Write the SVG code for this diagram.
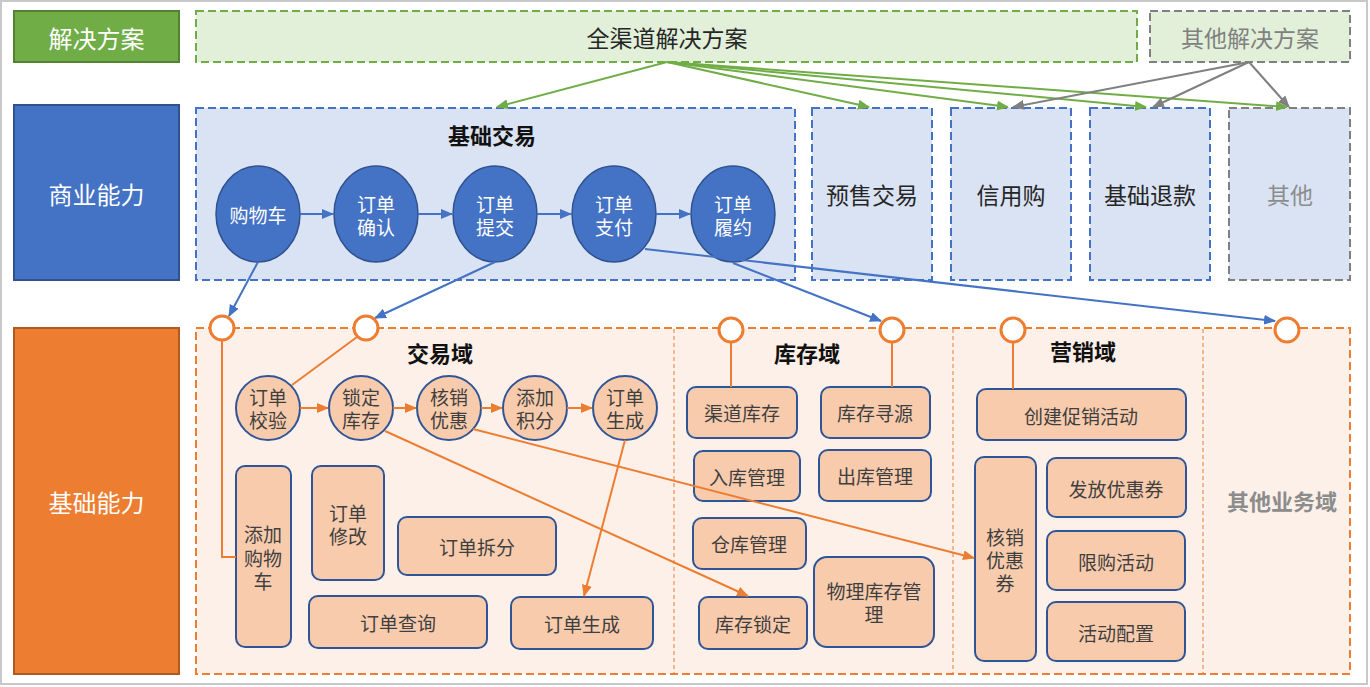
<svg xmlns="http://www.w3.org/2000/svg" width="1370" height="687" viewBox="0 0 1370 687">
<style>
text{font-family:"Noto Sans CJK SC","Noto Sans",sans-serif;text-anchor:middle;dominant-baseline:central}
.lab{fill:#fff;font-size:24px}
.dg{fill:#E2F0D9;stroke:#70AD47;stroke-width:2;stroke-dasharray:8 4}
.dgy{fill:#E2F0D9;stroke:#808080;stroke-width:2;stroke-dasharray:8 4}
.db{fill:#DAE3F3;stroke:#4472C4;stroke-width:2;stroke-dasharray:8 4}
.dbg{fill:#DAE3F3;stroke:#808080;stroke-width:2;stroke-dasharray:8 4}
.do{fill:#FDF0E9;stroke:#ED7D31;stroke-width:2;stroke-dasharray:8 4}
.div{stroke:#ED7D31;stroke-width:1;stroke-dasharray:4 3;fill:none}
.ell{fill:#4472C4;stroke:#2F528F;stroke-width:1.5}
.et{fill:#fff;font-size:19px}
.nc{fill:#F8CBAD;stroke:#2F5597;stroke-width:2}
.nt{fill:#3F3F3F;font-size:19px}
.big{fill:#262626;font-size:23px}
.ttl{fill:#111;font-size:22px;font-weight:bold}
.port{fill:#fff;stroke:#ED7D31;stroke-width:3}
.g{stroke:#70AD47;stroke-width:2;fill:none;marker-end:url(#ag)}
.gy{stroke:#808080;stroke-width:2;fill:none;marker-end:url(#agy)}
.b{stroke:#4472C4;stroke-width:2;fill:none;marker-end:url(#ab)}
.o{stroke:#ED7D31;stroke-width:2;fill:none;marker-end:url(#ao)}
.ol{stroke:#ED7D31;stroke-width:2;fill:none}
</style>
<defs>
<marker id="ag" markerWidth="12" markerHeight="10" refX="11" refY="5" orient="auto" markerUnits="userSpaceOnUse"><path d="M0,0 L12,5 L0,10 z" fill="#70AD47"/></marker>
<marker id="agy" markerWidth="12" markerHeight="10" refX="11" refY="5" orient="auto" markerUnits="userSpaceOnUse"><path d="M0,0 L12,5 L0,10 z" fill="#808080"/></marker>
<marker id="ab" markerWidth="12" markerHeight="10" refX="11" refY="5" orient="auto" markerUnits="userSpaceOnUse"><path d="M0,0 L12,5 L0,10 z" fill="#4472C4"/></marker>
<marker id="ao" markerWidth="12" markerHeight="10" refX="11" refY="5" orient="auto" markerUnits="userSpaceOnUse"><path d="M0,0 L12,5 L0,10 z" fill="#ED7D31"/></marker>
</defs>
<rect x="1" y="1" width="1366" height="683" fill="#fff" stroke="#C8C8C8" stroke-width="2"/>

<g id="label-solution"><rect x="14" y="11" width="165" height="51" fill="#70AD47" stroke="#548235" stroke-width="2"/><text class="lab" x="96.5" y="37">解决方案</text></g>
<g id="label-business"><rect x="14" y="105" width="165" height="175" fill="#4472C4" stroke="#2F528F" stroke-width="2"/><text class="lab" x="96.5" y="193">商业能力</text></g>
<g id="label-base"><rect x="14" y="328" width="165" height="346" fill="#ED7D31" stroke="#AE5A21" stroke-width="2"/><text class="lab" x="96.5" y="501">基础能力</text></g>

<g id="omni"><rect class="dg" x="196" y="11" width="941" height="51"/><text class="big" x="667" y="37">全渠道解决方案</text></g>
<g id="other-solution"><rect class="dgy" x="1150" y="11" width="200" height="51"/><text class="big" x="1250" y="37" style="fill:#808080">其他解决方案</text></g>

<g id="basic-trade"><rect class="db" x="196" y="108" width="599" height="172"/><text class="ttl" x="492" y="134">基础交易</text></g>
<g id="presale"><rect class="db" x="812" y="108" width="120" height="172"/><text class="big" x="872" y="194">预售交易</text></g>
<g id="credit"><rect class="db" x="951" y="108" width="120" height="172"/><text class="big" x="1011" y="194">信用购</text></g>
<g id="refund"><rect class="db" x="1090" y="108" width="120" height="172"/><text class="big" x="1150" y="194">基础退款</text></g>
<g id="other-biz"><rect class="dbg" x="1229" y="108" width="121" height="172"/><text class="big" x="1290" y="194" style="fill:#8C8C8C">其他</text></g>

<g id="e-cart"><ellipse class="ell" cx="258" cy="214" rx="42" ry="48"/><text class="et" x="258" y="214">购物车</text></g>
<g id="e-confirm"><ellipse class="ell" cx="376" cy="214" rx="42" ry="48"/><text class="et" x="376" y="203">订单<tspan x="376" dy="23">确认</tspan></text></g>
<g id="e-submit"><ellipse class="ell" cx="495" cy="214" rx="42" ry="48"/><text class="et" x="495" y="203">订单<tspan x="495" dy="23">提交</tspan></text></g>
<g id="e-pay"><ellipse class="ell" cx="614" cy="214" rx="42" ry="48"/><text class="et" x="614" y="203">订单<tspan x="614" dy="23">支付</tspan></text></g>
<g id="e-fulfil"><ellipse class="ell" cx="733" cy="214" rx="42" ry="48"/><text class="et" x="733" y="203">订单<tspan x="733" dy="23">履约</tspan></text></g>

<g id="base-area"><rect class="do" x="196" y="328" width="1154" height="346"/>
<line class="div" x1="674" y1="329" x2="674" y2="673"/><line class="div" x1="953" y1="329" x2="953" y2="673"/><line class="div" x1="1203" y1="329" x2="1203" y2="673"/></g>

<g id="trade-domain"><text class="ttl" x="440" y="352">交易域</text></g>
<g id="stock-domain"><text class="ttl" x="807" y="352">库存域</text></g>
<g id="mkt-domain"><text class="ttl" x="1083" y="350">营销域</text></g>
<g id="other-domain"><text class="ttl" x="1282" y="500" style="fill:#8C8C8C">其他业务域</text></g>

<g id="c-check"><circle class="nc" cx="268" cy="408" r="32"/><text class="nt" x="268" y="396">订单<tspan x="268" dy="23">校验</tspan></text></g>
<g id="c-lock"><circle class="nc" cx="361" cy="408" r="32"/><text class="nt" x="361" y="396">锁定<tspan x="361" dy="23">库存</tspan></text></g>
<g id="c-coupon"><circle class="nc" cx="449" cy="408" r="32"/><text class="nt" x="449" y="396">核销<tspan x="449" dy="23">优惠</tspan></text></g>
<g id="c-points"><circle class="nc" cx="535" cy="408" r="32"/><text class="nt" x="535" y="396">添加<tspan x="535" dy="23">积分</tspan></text></g>
<g id="c-gen"><circle class="nc" cx="625" cy="408" r="32"/><text class="nt" x="625" y="396">订单<tspan x="625" dy="23">生成</tspan></text></g>

<g id="r-addcart"><rect class="nc" x="236" y="466" width="55" height="181" rx="9"/><text class="nt" x="263" y="533">添加<tspan x="263" dy="24">购物</tspan><tspan x="263" dy="23">车</tspan></text></g>
<g id="r-modify"><rect class="nc" x="312" y="466" width="72" height="114" rx="9"/><text class="nt" x="348" y="512">订单<tspan x="348" dy="23">修改</tspan></text></g>
<g id="r-split"><rect class="nc" x="398" y="517" width="158" height="58" rx="9"/><text class="nt" x="477" y="546">订单拆分</text></g>
<g id="r-query"><rect class="nc" x="309" y="596" width="178" height="52" rx="9"/><text class="nt" x="398" y="622">订单查询</text></g>
<g id="r-gen"><rect class="nc" x="511" y="597" width="142" height="52" rx="9"/><text class="nt" x="582" y="623">订单生成</text></g>

<g id="r-channel"><rect class="nc" x="687" y="387" width="110" height="51" rx="9"/><text class="nt" x="742" y="412">渠道库存</text></g>
<g id="r-source"><rect class="nc" x="821" y="387" width="109" height="51" rx="9"/><text class="nt" x="875" y="412">库存寻源</text></g>
<g id="r-in"><rect class="nc" x="694" y="451" width="106" height="50" rx="9"/><text class="nt" x="747" y="476">入库管理</text></g>
<g id="r-out"><rect class="nc" x="819" y="450" width="112" height="51" rx="9"/><text class="nt" x="875" y="475">出库管理</text></g>
<g id="r-wh"><rect class="nc" x="693" y="518" width="113" height="51" rx="9"/><text class="nt" x="749" y="543">仓库管理</text></g>
<g id="r-stocklock"><rect class="nc" x="699" y="597" width="108" height="52" rx="9"/><text class="nt" x="753" y="623">库存锁定</text></g>
<g id="r-phys"><rect class="nc" x="814" y="557" width="120" height="90" rx="13"/><text class="nt" x="874" y="590">物理库存管<tspan x="874" dy="23">理</tspan></text></g>

<g id="r-promo"><rect class="nc" x="977" y="389" width="209" height="51" rx="9"/><text class="nt" x="1081" y="415">创建促销活动</text></g>
<g id="r-writeoff"><rect class="nc" x="975" y="457" width="61" height="204" rx="9"/><text class="nt" x="1005" y="536">核销<tspan x="1005" dy="23">优惠</tspan><tspan x="1005" dy="23">券</tspan></text></g>
<g id="r-issue"><rect class="nc" x="1047" y="458" width="139" height="59" rx="9"/><text class="nt" x="1116" y="488">发放优惠券</text></g>
<g id="r-limit"><rect class="nc" x="1047" y="531" width="138" height="59" rx="9"/><text class="nt" x="1116" y="561">限购活动</text></g>
<g id="r-config"><rect class="nc" x="1047" y="602" width="138" height="59" rx="9"/><text class="nt" x="1116" y="632">活动配置</text></g>

<g id="connectors">
<path class="g" d="M667,62 L497,107"/>
<path class="g" d="M667,62 L869,107"/>
<path class="g" d="M667,62 L1008,107"/>
<path class="g" d="M667,62 L1146,107"/>
<path class="g" d="M667,62 L1287,107"/>
<path class="gy" d="M1249,62 L1013,107"/>
<path class="gy" d="M1249,62 L1153,107"/>
<path class="gy" d="M1249,62 L1289,107"/>
<path class="b" d="M300,214 L333,214"/>
<path class="b" d="M418,214 L452,214"/>
<path class="b" d="M537,214 L571,214"/>
<path class="b" d="M656,214 L690,214"/>
<path class="b" d="M258,262 L229,316"/>
<path class="b" d="M495,262 L375,318"/>
<path class="b" d="M645,249 L1275,321"/>
<path class="b" d="M733,263 L881,321"/>
<path class="ol" d="M357,337 L292,385"/>
<path class="ol" d="M222,340 L222,557 L236,557"/>
<path class="ol" d="M731,342 L731,387"/>
<path class="ol" d="M892,342 L892,387"/>
<path class="ol" d="M1013,342 L1013,389"/>
<path class="o" d="M300,408 L328,408"/>
<path class="o" d="M393,408 L416,408"/>
<path class="o" d="M481,408 L502,408"/>
<path class="o" d="M567,408 L592,408"/>
<path class="o" d="M625,440 L584,596"/>
<path class="o" d="M385,431 L748,596"/>
<path class="o" d="M473,429 L974,558"/>
</g>
<g id="ports">
<circle class="port" cx="222" cy="328" r="12"/>
<circle class="port" cx="366" cy="328" r="12"/>
<circle class="port" cx="731" cy="330" r="12"/>
<circle class="port" cx="892" cy="330" r="12"/>
<circle class="port" cx="1013" cy="330" r="12"/>
<circle class="port" cx="1287" cy="330" r="12"/>
</g>
</svg>
